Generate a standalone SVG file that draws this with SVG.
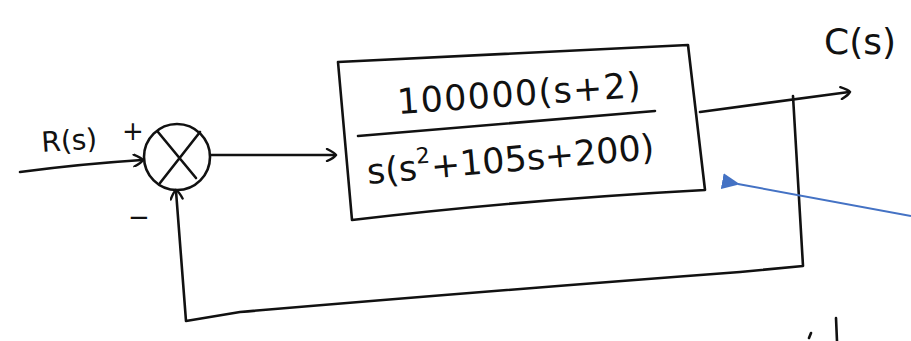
<svg xmlns="http://www.w3.org/2000/svg" width="911" height="341" viewBox="0 0 911 341">
<style>
.ln{fill:none;stroke:#111;stroke-width:2.6;stroke-linecap:round;stroke-linejoin:round}
.tx{font-family:"DejaVu Sans","Liberation Sans",sans-serif;fill:#111}
</style>
<defs>
<marker id="open" markerWidth="14" markerHeight="14" refX="10" refY="7" orient="auto" markerUnits="userSpaceOnUse">
<path d="M2,1 Q10,5 11,7 Q9,10 2,13" fill="none" stroke="#111" stroke-width="2.4" stroke-linecap="round"/>
</marker>
<marker id="blue" markerWidth="18" markerHeight="16" refX="2" refY="8" orient="auto" markerUnits="userSpaceOnUse">
<path d="M0,8 L18,0 L18,16 Z" fill="#4472C4"/>
</marker>
</defs>
<rect width="911" height="341" fill="#fff"/>

<g id="sum">
<ellipse class="ln" cx="177" cy="157" rx="33" ry="33"/>
<path class="ln" d="M158,132 L196,178 M200,132 L160,183"/>
<text class="tx" x="122" y="140" font-size="26">+</text>
<text class="tx" x="128" y="226" font-size="26">−</text>
</g>

<g id="plant">
<path class="ln" d="M338,62 L688,45 L705,190 Q520,200 352,220 Z"/>
<path class="ln" d="M358,136 L655,111"/>
<text class="tx" font-size="35" transform="translate(398,114) rotate(-4)" textLength="244">100000(s+2)</text>
<text class="tx" font-size="35" transform="translate(368,184) rotate(-5)">s(s<tspan font-size="22" dy="-16">2</tspan><tspan dy="16">+105s+200)</tspan></text>
</g>

<g id="labels">
<text class="tx" x="42" y="152" font-size="28" transform="rotate(-4 42 152)">R(s)</text>
<text class="tx" x="824" y="54" font-size="36">C(s)</text>
</g>

<g id="connectors">
<path class="ln" d="M20,172 Q80,164 142,160" marker-end="url(#open)"/>
<path class="ln" d="M211,155 L335,155" marker-end="url(#open)"/>
<path class="ln" d="M700,112 L849,92" marker-end="url(#open)"/>
<path class="ln" d="M793,96 L803,266 L740,272 Q500,290 240,312 L186,321 L176,191" marker-end="url(#open)"/>
<path d="M911,216 L738,184" stroke="#4472C4" stroke-width="2" fill="none" marker-end="url(#blue)"/>
</g>

<g id="marks">
<path class="ln" d="M811,333 L809,338 M836,318 L837,341"/>
</g>
</svg>
